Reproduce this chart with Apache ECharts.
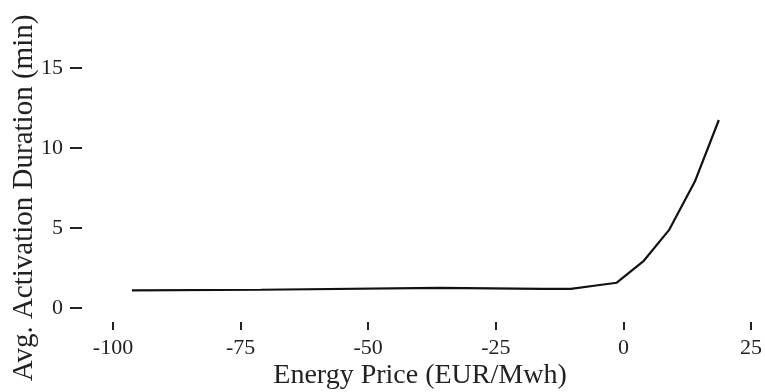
<!DOCTYPE html>
<html>
<head>
<meta charset="utf-8">
<script src="https://cdn.jsdelivr.net/npm/echarts@6/dist/echarts.min.js"></script>
<style>html,body{margin:0;padding:0;background:#fff;}#c{width:765px;height:392px;}</style>
</head>
<body>
<div id="c"></div>
<script>
const priceValues = [-96.3, -71, -36, -16, -10.3, -5, -1.3, 4, 9, 14, 18.7];
const durationValues = [1.1, 1.14, 1.26, 1.2, 1.19, 1.42, 1.58, 2.95, 4.9, 7.9, 11.75];
const xTicks = [-100, -75, -50, -25, 0, 25];
const yTicks = [0, 5, 10, 15];
const xTitle = 'Energy Price (EUR/Mwh)';
const yTitle = 'Avg. Activation Duration (min)';

const font = 'Liberation Serif';
const chart = echarts.init(document.getElementById('c'));
chart.setOption({
  animation: false,
  backgroundColor: '#fff',
  grid: { left: 113, right: 14, top: 68, bottom: 84, containLabel: false, outerBoundsMode: 'none' },
  xAxis: {
    type: 'value', min: xTicks[0], max: xTicks[xTicks.length - 1], interval: 25,
    offset: 14,
    axisLine: { show: false, onZero: false },
    axisTick: { show: true, length: 8, lineStyle: { color: '#222', width: 2 } },
    axisLabel: { color: '#222', fontFamily: font, fontSize: 22, margin: 15 },
    splitLine: { show: false },
    name: xTitle, nameLocation: 'middle', nameGap: 40, nameMoveOverlap: false,
    nameTextStyle: { color: '#222', fontFamily: font, fontSize: 28, padding: [0, 24, 0, 0] }
  },
  yAxis: {
    type: 'value', min: yTicks[0], max: yTicks[yTicks.length - 1], interval: 5,
    offset: 31,
    axisLine: { show: false, onZero: false },
    axisTick: { show: true, length: 12, lineStyle: { color: '#222', width: 2 } },
    axisLabel: { color: '#222', fontFamily: font, fontSize: 22, margin: 19 },
    splitLine: { show: false },
    name: yTitle, nameLocation: 'middle', nameGap: 43, nameMoveOverlap: false,
    nameTextStyle: { color: '#222', fontFamily: font, fontSize: 29, padding: [0, 20, 0, 0] }
  },
  series: [{
    type: 'line',
    data: priceValues.map((p, i) => [p, durationValues[i]]),
    showSymbol: false,
    lineStyle: { color: '#111', width: 2.2 },
    silent: true
  }]
});
</script>
</body>
</html>
